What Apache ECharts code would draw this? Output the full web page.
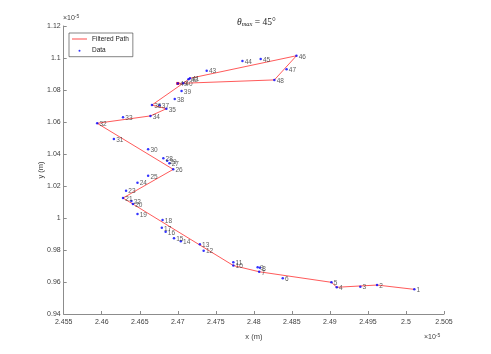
<!DOCTYPE html>
<html>
<head>
<meta charset="utf-8">
<script src="https://cdn.jsdelivr.net/npm/echarts@6/dist/echarts.min.js"></script>
<style>
  html, body { margin: 0; padding: 0; background: #fff; }
  #chart { width: 491px; height: 354px; }
</style>
</head>
<body>
<div id="chart"></div>
<script>
// positions in units of 1e-5 m
var pointX = [2.5011, 2.4962, 2.4940, 2.4909, 2.4902, 2.4838, 2.4807, 2.4808, 2.4805, 2.4773,
              2.4773, 2.4734, 2.4729, 2.4704, 2.4695, 2.4684, 2.4679, 2.4680, 2.4647, 2.4641,
              2.4628, 2.4639, 2.4632, 2.4647, 2.4661, 2.4694, 2.4689, 2.4681, 2.4686, 2.4661,
              2.4616, 2.4594, 2.4628, 2.4664, 2.4685, 2.4666, 2.4676, 2.4696, 2.4705, 2.4707,
              2.4716, 2.4714, 2.4738, 2.4785, 2.4809, 2.4856, 2.4843, 2.4827, 2.4700];
var pointY = [0.9554, 0.9581, 0.9571, 0.9567, 0.9598, 0.9623, 0.9664, 0.9689, 0.9692, 0.9703,
              0.9723, 0.9796, 0.9836, 0.9854, 0.9873, 0.9914, 0.9939, 0.9988, 1.0025, 1.0088,
              1.0125, 1.0106, 1.0171, 1.0221, 1.0264, 1.0304, 1.0342, 1.0373, 1.0358, 1.0429,
              1.0494, 1.0592, 1.0629, 1.0638, 1.0683, 1.0706, 1.0704, 1.0744, 1.0794, 1.0842,
              1.0873, 1.0867, 1.0921, 1.0981, 1.0994, 1.1014, 1.0929, 1.0863, 1.0841];
// points kept by the filter (1-based point numbers)
var pathIdx = [1, 2, 4, 5, 7, 10, 21, 26, 32, 34, 35, 36, 40, 41, 46, 48, 49];

var xTicks = { min: 2.455, max: 2.505, step: 0.005 };
var yTicks = { min: 0.94, max: 1.12, step: 0.02 };

var fontName = 'Liberation Sans';
var axisGray = '#8c8c8c';
var textGray = '#404040';

var dataPts = pointX.map(function (x, i) { return [x, pointY[i]]; });
var pathPts = pathIdx.map(function (n, k) {
    var p = [pointX[n - 1], pointY[n - 1]];
    if (k === pathIdx.length - 1) {
        return { value: p, symbol: 'rect', symbolSize: 3 };
    }
    return { value: p };
});

var chart = echarts.init(document.getElementById('chart'));

var expText = {
    text: '{a|×10}{b|-5}',
    rich: {
        a: { fontSize: 7, fill: textGray, fontFamily: fontName, padding: [3, 0, 0, 0] },
        b: { fontSize: 5, fill: textGray, fontFamily: fontName }
    }
};

var option = {
    animation: false,
    textStyle: { fontFamily: fontName },
    grid: { left: 63.7, right: 47, top: 26, bottom: 40, containLabel: false },
    title: {
        text: '{t|θ}{s|max}{n| = 45°}',
        left: 232,
        top: 11,
        textStyle: {
            fontWeight: 'normal',
            rich: {
                t: { fontFamily: 'Liberation Serif', fontStyle: 'italic', fontWeight: 'normal', fontSize: 9.5, color: '#222' },
                s: { fontFamily: 'Liberation Serif', fontStyle: 'italic', fontWeight: 'normal', fontSize: 6.5, color: '#222', padding: [5, 0, 0, 0] },
                n: { fontFamily: 'Liberation Serif', fontWeight: 'normal', fontSize: 9.5, color: '#222' }
            }
        }
    },
    legend: {
        orient: 'vertical',
        left: 69,
        top: 33,
        padding: [2.5, 4, 2.5, 3],
        itemGap: 4.7,
        itemWidth: 15,
        itemHeight: 7,
        borderColor: '#333',
        borderWidth: 0.6,
        backgroundColor: '#fff',
        textStyle: { fontSize: 6.5, color: '#222', fontFamily: fontName },
        data: [
            { name: 'Filtered Path', icon: 'path://M0,0M15,7M0,3.1h15v0.8h-15z' },
            { name: 'Data', icon: 'path://M0,0M15,7M6.5,3.5a1,1 0 1,1 2,0a1,1 0 1,1 -2,0z' }
        ]
    },
    graphic: [
        { type: 'text', left: 63, top: 14, style: expText },
        { type: 'text', left: 424, top: 333, style: expText }
    ],
    xAxis: {
        type: 'value',
        min: xTicks.min,
        max: xTicks.max,
        interval: xTicks.step,
        name: 'x (m)',
        nameLocation: 'middle',
        nameGap: 19,
        nameMoveOverlap: false,
        nameTextStyle: { fontSize: 7.5, color: textGray },
        axisLine: { show: true, lineStyle: { color: axisGray, width: 1 } },
        axisTick: { show: true, inside: true, length: 3, lineStyle: { color: axisGray } },
        axisLabel: {
            fontSize: 7, color: textGray, margin: 5,
            formatter: function (v) { return String(Number(v.toFixed(3))); }
        },
        splitLine: { show: false }
    },
    yAxis: {
        type: 'value',
        min: yTicks.min,
        max: yTicks.max,
        interval: yTicks.step,
        name: 'y (m)',
        nameLocation: 'middle',
        nameGap: 19,
        nameMoveOverlap: false,
        nameTextStyle: { fontSize: 7.5, color: textGray },
        axisLine: { show: true, lineStyle: { color: axisGray, width: 1 } },
        axisTick: { show: true, inside: true, length: 3, lineStyle: { color: axisGray } },
        axisLabel: {
            fontSize: 7, color: textGray, margin: 3,
            formatter: function (v) { return String(Number(v.toFixed(2))); }
        },
        splitLine: { show: false }
    },
    series: [
        {
            name: 'Filtered Path',
            type: 'line',
            data: pathPts,
            symbol: 'none',
            itemStyle: { color: '#ff2020' },
            lineStyle: { color: '#ff3030', width: 0.8 },
            z: 2
        },
        {
            name: 'Data',
            type: 'scatter',
            data: dataPts,
            symbol: 'circle',
            symbolSize: 2.5,
            itemStyle: { color: '#0000ff' },
            label: {
                show: true,
                position: 'right',
                distance: 1,
                offset: [0, 1],
                fontSize: 6.5,
                color: '#333',
                fontFamily: fontName,
                formatter: function (p) { return String(p.dataIndex + 1); }
            },
            z: 3
        }
    ]
};

chart.setOption(option);
</script>
</body>
</html>
